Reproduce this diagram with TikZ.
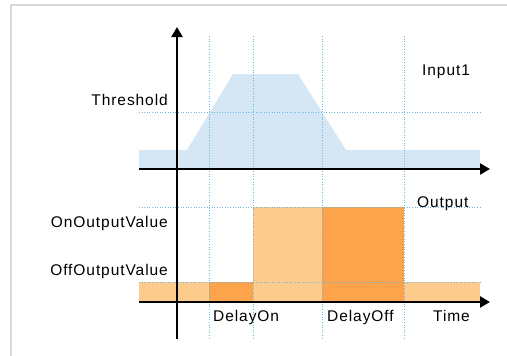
\documentclass[tikz,border=0pt]{standalone}
\usepackage{fontspec}
\setmainfont[LetterSpace=6]{Liberation Sans}
\usepackage{tikz}
\usetikzlibrary{arrows.meta}

\definecolor{bleuclair}{HTML}{D5E7F5}
\definecolor{bleupoint}{HTML}{6AB8E0}
\definecolor{orangeclair}{HTML}{FDCB8C}
\definecolor{orangefonce}{HTML}{FDA34C}
\definecolor{cadre}{HTML}{D8D8D8}

\begin{document}
\begin{tikzpicture}[x=1pt,y=-1pt,font=\fontsize{15.5}{18}\selectfont,
  repere/.style={dash pattern=on 1pt off 1.6pt,bleupoint,line width=0.9pt},
  axe/.style={line width=2.4pt,-{Triangle[length=10pt,width=11pt]}},
  etiquette/.style={inner sep=0pt}]
\pgfmathsetmacro{\xaxe}{177}%
\pgfmathsetmacro{\xdeb}{139}%
\pgfmathsetmacro{\xfin}{480}%
\pgfmathsetmacro{\xun}{209}%
\pgfmathsetmacro{\xdeux}{253}%
\pgfmathsetmacro{\xtrois}{322}%
\pgfmathsetmacro{\xquatre}{404}%

\pgfmathsetmacro{\yin}{169}%
\pgfmathsetmacro{\ybas}{150}%
\pgfmathsetmacro{\yhaut}{74}%
\pgfmathsetmacro{\yseuil}{112}%

\pgfmathsetmacro{\yout}{302}%
\pgfmathsetmacro{\yon}{207}%
\pgfmathsetmacro{\yoff}{282}%

\useasboundingbox (0,0) rectangle (507,356);

    %cadre
    \draw[cadre,line width=1.5pt] (11,356) -- (11,5) -- (507,5);

    %entree
    \fill[bleuclair] (\xdeb,\yin) -- (\xdeb,\ybas) -- (187,\ybas) -- (233,\yhaut) -- (298,\yhaut)
        -- (346,\ybas) -- (\xfin,\ybas) -- (\xfin,\yin) -- cycle;

    %sortie
    \fill[orangeclair] (\xdeb,\yoff) rectangle (\xfin,\yout);
    \fill[orangefonce] (\xun,\yoff) rectangle (\xdeux,\yout);
    \fill[orangeclair] (\xdeux,\yon) rectangle (\xtrois,\yout);
    \fill[orangefonce] (\xtrois,\yon) rectangle (\xquatre,\yout);

    %reperes
    \foreach \x in {\xun,\xdeux,\xtrois,\xquatre}
        \draw[repere] (\x,36) -- (\x,339);
    \foreach \y in {\yseuil,\yon,\yoff}
        \draw[repere] (\xdeb,\y) -- (\xfin,\y);

    %axes
    \draw[line width=2.4pt] (\xaxe,339) -- (\xaxe,40);
    \draw[axe] (\xaxe,60) -- (\xaxe,27);
    \draw[axe] (\xdeb,\yin) -- (490,\yin);
    \draw[axe] (\xdeb,\yout) -- (490,\yout);

    %textes
    \node[etiquette,anchor=base east] (seuil) at (168,105) {Threshold};
    \node[etiquette,anchor=base east] (valon) at (168,227) {OnOutputValue};
    \node[etiquette,anchor=base east] (valoff) at (168,275) {OffOutputValue};
    \node[etiquette,anchor=base west] (entree) at (422,75) {Input1};
    \node[etiquette,anchor=base west] (sortie) at (417,207) {Output};
    \node[etiquette,anchor=base west] (delaion) at (213,321) {DelayOn};
    \node[etiquette,anchor=base west] (delaioff) at (327,321) {DelayOff};
    \node[etiquette,anchor=base west] (temps) at (433,321) {Time};

\end{tikzpicture}
\end{document}
